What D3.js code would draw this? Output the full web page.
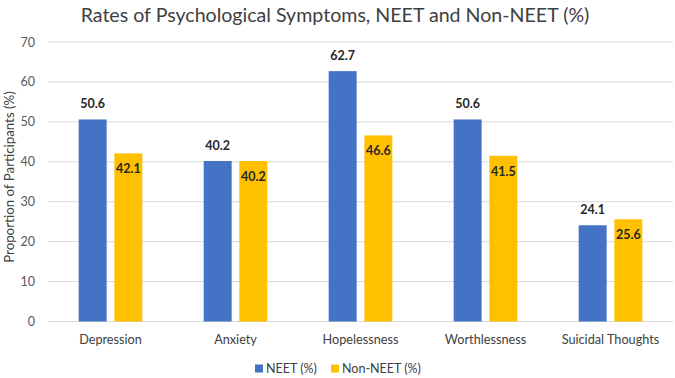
<!DOCTYPE html>
<html>
<head>
<meta charset="utf-8">
<script src="https://cdn.jsdelivr.net/npm/d3@7"></script>
<style>
  body { margin: 0; background: #fff; }
  text { font-family: Lato, "Open Sans", sans-serif; }
</style>
</head>
<body>
<div id="chart"></div>
<script>
// dados
var categories = ["Depression", "Anxiety", "Hopelessness", "Worthlessness", "Suicidal Thoughts"];
var seriesNames = ["NEET (%)", "Non-NEET (%)"];
var neet = [50.6, 40.2, 62.7, 50.6, 24.1];
var nonNeet = [42.1, 40.2, 46.6, 41.5, 25.6];
var yTicks = [0, 10, 20, 30, 40, 50, 60, 70];
var colors = ["#4472C4", "#FFC000"];

var W = 675, H = 378;
var margin = { top: 42, right: 2, bottom: 56.5, left: 48 };
var width = W - margin.left - margin.right;
var height = H - margin.top - margin.bottom;

var svg = d3.select("#chart")
            .append("svg")
            .attr("width", W)
            .attr("height", H);

var g = svg.append("g")
           .attr("transform", "translate(" + margin.left + "," + margin.top + ")");

// escalas
var x0 = d3.scaleBand().domain(categories).range([0, width]);
var x1 = d3.scaleBand().domain(seriesNames).range([0, x0.bandwidth()])
           .paddingInner(0.216).paddingOuter(0.86);
var y = d3.scaleLinear().domain([0, 70]).range([height, 0]);

// grade
g.selectAll(".grid")
 .data(yTicks)
 .enter()
 .append("line")
 .attr("x1", 0)
 .attr("x2", width)
 .attr("y1", function(d) { return y(d); })
 .attr("y2", function(d) { return y(d); })
 .attr("stroke", "#D9D9D9")
 .attr("stroke-width", 1);

// eixo y
var yAxis = g.append("g")
             .call(d3.axisLeft(y).tickValues(yTicks).tickSize(0).tickPadding(13));
yAxis.select(".domain").remove();
yAxis.selectAll("text")
     .style("font-family", "Lato, sans-serif")
     .style("font-size", "12.5px")
     .attr("fill", "#595959");

// eixo x
var xAxis = g.append("g")
             .attr("transform", "translate(0," + height + ")")
             .call(d3.axisBottom(x0).tickSize(0).tickPadding(13));
xAxis.select(".domain").remove();
xAxis.selectAll("text")
     .style("font-family", "Lato, sans-serif")
     .style("font-size", "12.7px")
     .attr("fill", "#404040");

// barras
var rows = categories.map(function(c, i) {
  return { cat: c, vals: [
    { s: seriesNames[0], v: neet[i], k: 0 },
    { s: seriesNames[1], v: nonNeet[i], k: 1 }
  ] };
});

var grp = g.selectAll(".cat")
           .data(rows)
           .enter()
           .append("g")
           .attr("transform", function(d) { return "translate(" + x0(d.cat) + ",0)"; });

grp.selectAll("rect")
   .data(function(d) { return d.vals; })
   .enter()
   .append("rect")
   .attr("x", function(d) { return x1(d.s); })
   .attr("y", function(d) { return y(d.v); })
   .attr("width", x1.bandwidth())
   .attr("height", function(d) { return y(0) - y(d.v); })
   .attr("fill", function(d) { return colors[d.k]; });

// rótulos
grp.selectAll(".lbl")
   .data(function(d) { return d.vals; })
   .enter()
   .append("text")
   .attr("x", function(d) { return x1(d.s) + x1.bandwidth() / 2; })
   .attr("y", function(d) { return d.k === 0 ? y(d.v) - 11 : y(d.v) + 20; })
   .attr("text-anchor", "middle")
   .style("font-size", "12.5px")
   .style("font-weight", "bold")
   .attr("fill", "#262626")
   .text(function(d) { return d.v.toFixed(1); });

// título
svg.append("text")
   .attr("x", 335)
   .attr("y", 22)
   .attr("text-anchor", "middle")
   .style("font-size", "19.6px")
   .attr("fill", "#404040")
   .text("Rates of Psychological Symptoms, NEET and Non-NEET (%)");

// título eixo y
svg.append("text")
   .attr("transform", "translate(13.5,177) rotate(-90)")
   .attr("text-anchor", "middle")
   .style("font-size", "13.3px")
   .attr("fill", "#404040")
   .text("Proportion of Participants (%)");

// legenda
var legX = [255, 331];
var leg = svg.selectAll(".leg")
             .data(seriesNames)
             .enter()
             .append("g")
             .attr("transform", function(d, i) { return "translate(" + legX[i] + ",364.5)"; });
leg.append("rect")
   .attr("width", 8)
   .attr("height", 8)
   .attr("fill", function(d, i) { return colors[i]; });
leg.append("text")
   .attr("x", 11)
   .attr("y", 8.5)
   .style("font-size", "12.5px")
   .attr("fill", "#404040")
   .text(function(d) { return d; });
</script>
</body>
</html>
